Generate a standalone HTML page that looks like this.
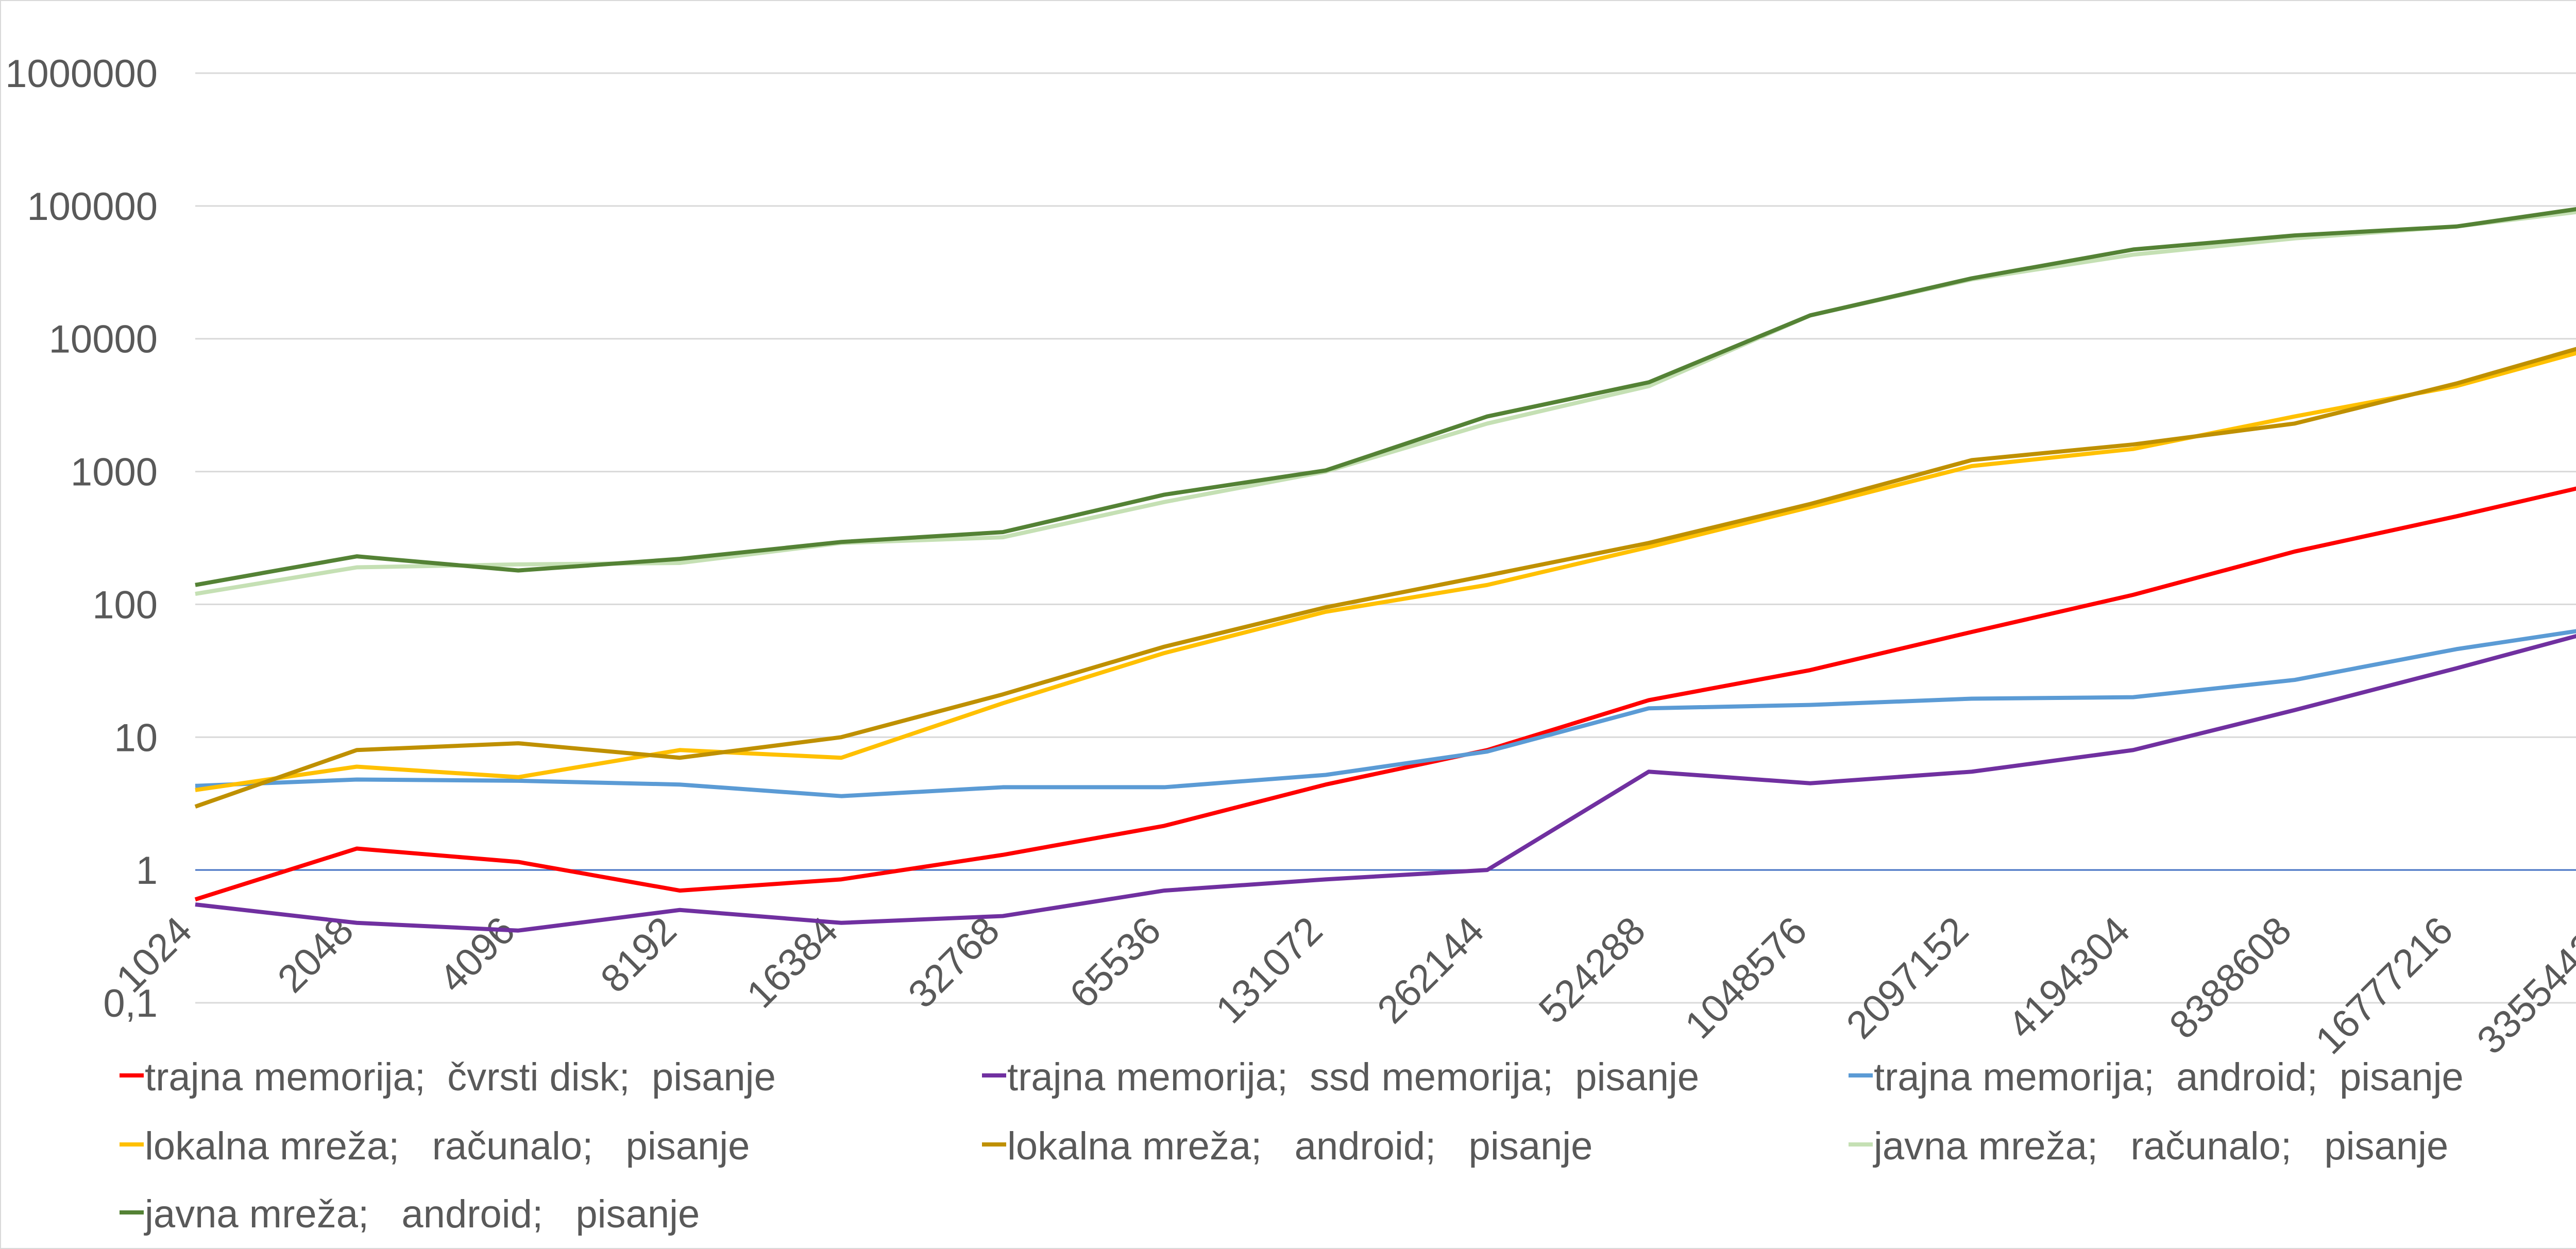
<!DOCTYPE html>
<html><head><meta charset="utf-8"><style>
html,body{margin:0;padding:0;background:#fff;overflow:hidden}
svg{display:block}
text{font-family:"Liberation Sans",sans-serif;fill:#595959;white-space:pre}
</style></head><body>
<svg id="chart" width="5171" height="2425" viewBox="0 0 5171 2425" xmlns="http://www.w3.org/2000/svg">
<rect x="0" y="0" width="5171" height="2425" fill="#fff" stroke="#d9d9d9" stroke-width="4"/>
<g id="grid"></g>
<g id="yticks"></g>
<g id="xticks"></g>
<g id="series"></g>
<g id="legend"></g>
</svg>
<script>
const categories=["1024","2048","4096","8192","16384","32768","65536","131072","262144","524288","1048576","2097152","4194304","8388608","16777216","33554432"];
const yTicks=[0.1,1,10,100,1000,10000,100000,1000000];
const yTickLabels=["0,1","1","10","100","1000","10000","100000","1000000"];
const seriesNames=["trajna memorija;  čvrsti disk;  pisanje","trajna memorija;  ssd memorija;  pisanje","trajna memorija;  android;  pisanje","lokalna mreža;   računalo;   pisanje","lokalna mreža;   android;   pisanje","javna mreža;   računalo;   pisanje","javna mreža;   android;   pisanje"];
const seriesColors=["#ff0000","#7030a0","#5b9bd5","#ffc000","#bf9000","#c5e0b4","#548235"];
const sDisk=[0.6,1.45,1.15,0.7,0.85,1.3,2.15,4.4,8,19,32,62,118,250,460,880];
const sSsd=[0.55,0.4,0.35,0.5,0.4,0.45,0.7,0.85,1.0,5.5,4.5,5.5,8,16,33,70];
const sAndMem=[4.3,4.8,4.7,4.4,3.6,4.2,4.2,5.2,7.8,16.5,17.5,19.5,20,27,46,70];
const sLanPc=[4,6,5,8,7,18,43,88,140,270,540,1100,1480,2600,4400,9500];
const sLanAnd=[3,8,9,7,10,21,48,95,165,290,570,1220,1600,2300,4600,10300];
const sWanPc=[120,190,200,205,290,320,590,1000,2300,4400,15000,28000,43000,57000,70000,98000];
const sWanAnd=[140,230,180,220,295,350,670,1020,2600,4700,15000,28500,47000,60000,70000,105000];
const allSeries=[sDisk,sSsd,sAndMem,sLanPc,sLanAnd,sWanPc,sWanAnd];

const NS="http://www.w3.org/2000/svg";
const L=379,R=5081,TOP=142,BOT=1947;
const yMin=-1,yMax=6;
function y(v){return BOT-(Math.log10(v)-yMin)/(yMax-yMin)*(BOT-TOP);}
function x(i){return L+i*(R-L)/(categories.length-1);}
function mk(tag,attrs,parent){const e=document.createElementNS(NS,tag);for(const k in attrs)e.setAttribute(k,attrs[k]);parent.appendChild(e);return e;}

const grid=document.getElementById('grid'),yt=document.getElementById('yticks'),xt=document.getElementById('xticks'),sg=document.getElementById('series'),lg=document.getElementById('legend');
yTicks.forEach((t,i)=>{
  const ln=mk('line',{x1:L,x2:R,y1:y(t),y2:y(t),stroke:t===1?'#4472c4':'#d9d9d9','stroke-width':3},grid);
  
  
  const tx=mk('text',{x:306,y:y(t)+27,'text-anchor':'end','font-size':76},yt);
  tx.textContent=yTickLabels[i];
  
  
});
categories.forEach((c,i)=>{
  const ax=x(i)-2,ay=1812;
  const tx=mk('text',{x:ax,y:ay,'text-anchor':'end','font-size':76,transform:`rotate(-45 ${ax} ${ay})`},xt);
  tx.textContent=c;
  
  
});
allSeries.forEach((s,k)=>{
  const p=mk('polyline',{points:s.map((v,i)=>x(i)+','+y(v)).join(' '),fill:'none',stroke:seriesColors[k],'stroke-width':8,'stroke-linejoin':'round'},sg);
  
  
});
const lx=[232,1906,3588],ly=[2088,2222,2354];
seriesNames.forEach((n,k)=>{
  const cx=lx[k%3],cy=ly[Math.floor(k/3)];
  const g=mk('g',{},lg);
  
  
  mk('line',{x1:cx,x2:cx+47,y1:cy,y2:cy,stroke:seriesColors[k],'stroke-width':8},g);
  const t=mk('text',{x:cx+49,y:cy+29,'font-size':76},g);
  t.textContent=n;
});
</script>
</body></html>
